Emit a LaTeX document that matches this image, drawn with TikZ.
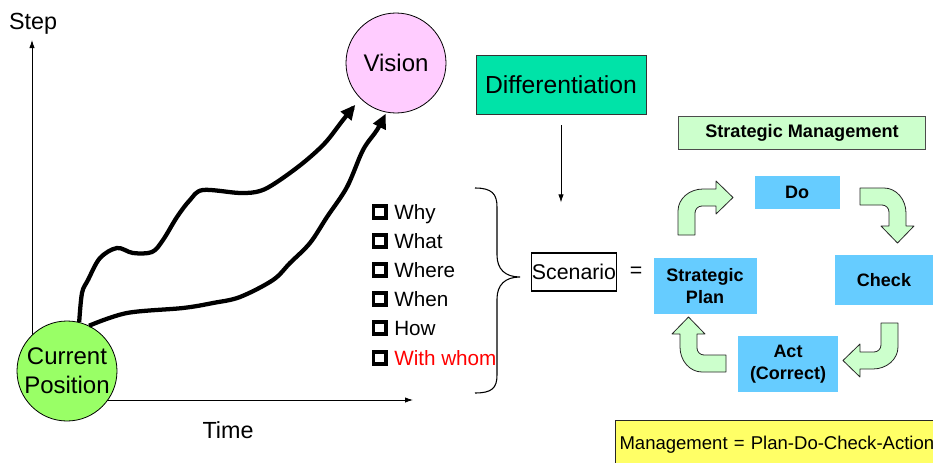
\documentclass[tikz,border=0pt]{standalone}
\usepackage{fontspec}
\setmainfont{Liberation Sans}
\usepackage{xcolor}
\usetikzlibrary{arrows.meta}

\definecolor{curgreen}{HTML}{99FF66}
\definecolor{vispink}{HTML}{FFCCFF}
\definecolor{diffgreen}{HTML}{00E3A8}
\definecolor{mintgreen}{HTML}{CCFFCC}
\definecolor{pdcablue}{HTML}{66CCFF}
\definecolor{noteyellow}{HTML}{FFFF66}

\begin{document}
\begin{tikzpicture}[x=0.75pt, y=0.75pt,
    circ/.style={draw, circle, line width=0.6pt, minimum size=75pt, inner sep=0pt, align=center},
    arrow/.style={-{Latex[length=6pt, width=4pt]}, line width=0.6pt},
    wave/.style={line width=3.2pt, -{Triangle[length=11pt, width=10pt]}},
    lbl/.style={font=\fontsize{17.5}{21}\selectfont},
    chk/.style={draw, line width=2.8pt, minimum size=9.2pt, inner sep=0pt, label distance=4.8pt},
    item/.style={anchor=west, inner sep=0pt, text height=11pt, text depth=0pt, font=\fontsize{15.5}{18}\selectfont, label={[chk]left:{}}},
    pdca/.style={fill=pdcablue, align=center, inner sep=0pt, font=\bfseries\fontsize{13.5}{16.5}\selectfont},
    bentarrow/.style={fill=mintgreen, draw=black!85, line width=0.6pt, line join=round},
    bent/.pic={\draw[bentarrow] (0,0) -- (0,24) arc[start angle=180, end angle=90, x radius=25, y radius=22] -- (38,46) -- (38,54) -- (55,37.5) -- (38,21) -- (38,29) -- (24,29) arc[start angle=90, end angle=180, radius=7] -- (17,0) -- cycle;}
  ]
    \useasboundingbox (0,0) rectangle (933,462);
    \fill[white] (0,0) rectangle (933,462);

    % Axes
    \coordinate (o) at (32,62);
    \coordinate (ytip) at (32,422);
    \coordinate (xtip) at (413,62);
    \draw[arrow] (o) -- (ytip);
    \draw[arrow] (o) -- (xtip);
    \node[lbl] (steplbl) at (33,438) {Step};
    \node[lbl] (timelbl) at (228,32) {Time};

    % Position and vision
    \node[circ, fill=curgreen, font=\fontsize{18}{21.75}\selectfont] (cur) at (67,91) {Current\\Position};
    \node[circ, fill=vispink, font=\fontsize{18}{21.75}\selectfont] (vis) at (396,399) {Vision};

    % Paths to the vision
    \draw[wave, shorten >=6pt] plot[smooth, tension=0.55] coordinates {(cur.76) (82,169) (88,182) (100,204) (117,214) (133,209) (152,210) (163,222) (177,245) (190,262) (203,272) (240,269) (260,271) (277,280) (303,299) (325,319) (343,342) (vis.225)};
    \draw[wave, shorten >=1pt] plot[smooth, tension=0.55] coordinates {(cur.64) (127,149) (183,154) (213,159) (240,165) (273,182) (290,199) (310,219) (327,245) (347,275) (363,312) (377,332) (vis.259)};

    % Questions
    \node[item] (why) at (394,250) {Why};
    \node[item] (what) at (394,221) {What};
    \node[item] (where) at (394,192) {Where};
    \node[item] (when) at (394,163) {When};
    \node[item] (how) at (394,134) {How};
    \node[item, text=red] (whom) at (394,104) {With whom};

    % Brace
    \draw[line width=0.8pt] (475,274) .. controls (492,274) and (497,268) .. (497,255) -- (497,207) .. controls (497,193) and (505,185) .. (520,185) .. controls (505,185) and (497,177) .. (497,163) -- (497,87) .. controls (497,74) and (492,69) .. (475,69);

    % Scenario
    \node[draw, line width=0.8pt, minimum width=64pt, minimum height=28.5pt, inner sep=0pt, font=\fontsize{16}{19}\selectfont] (scen) at (574,190) {Scenario};
    \node[font=\fontsize{16}{19}\selectfont] (eq) at (636,190) {=};
    \node[draw=black!80, line width=0.6pt, fill=diffgreen, minimum width=127.5pt, minimum height=44pt, font=\fontsize{18.5}{22}\selectfont] (diff) at (561,377) {Differentiation};
    \draw[arrow, shorten <=8pt, shorten >=37.5pt] (diff.south) -- (diff.south |- scen.north);

    % Strategic management cycle
    \node[draw=black!70, line width=1pt, fill=mintgreen, minimum width=185pt, minimum height=25pt, inner sep=0pt, font=\bfseries\fontsize{13.6}{16}\selectfont] (sm) at (802,329) {Strategic Management};
    \node[pdca, minimum width=63.75pt, minimum height=24.75pt] (do) at (797,270) {Do};
    \node[pdca, minimum width=73.5pt, minimum height=37.5pt] (check) at (884,182) {Check};
    \node[pdca, minimum width=75pt, minimum height=42pt] (act) at (788,98) {Act\\(Correct)};
    \node[pdca, minimum width=77.25pt, minimum height=42pt] (plan) at (705,176) {Strategic\\Plan};

    \pic at (678,227) {bent};
    \pic[rotate=-90] at (860,274) {bent};
    \pic[rotate=180] at (898,139) {bent};
    \pic[rotate=90] at (726,90) {bent};

    % Note
    \node[draw=black!85, line width=0.8pt, fill=noteyellow, anchor=north west, align=left, text width=250pt, inner xsep=3pt, inner ysep=7.75pt, text height=14pt, text depth=20pt, font=\fontsize{13.9}{16}\selectfont] (note) at (615,42) {Management = Plan-Do-Check-Action};
  \end{tikzpicture}
\end{document}
